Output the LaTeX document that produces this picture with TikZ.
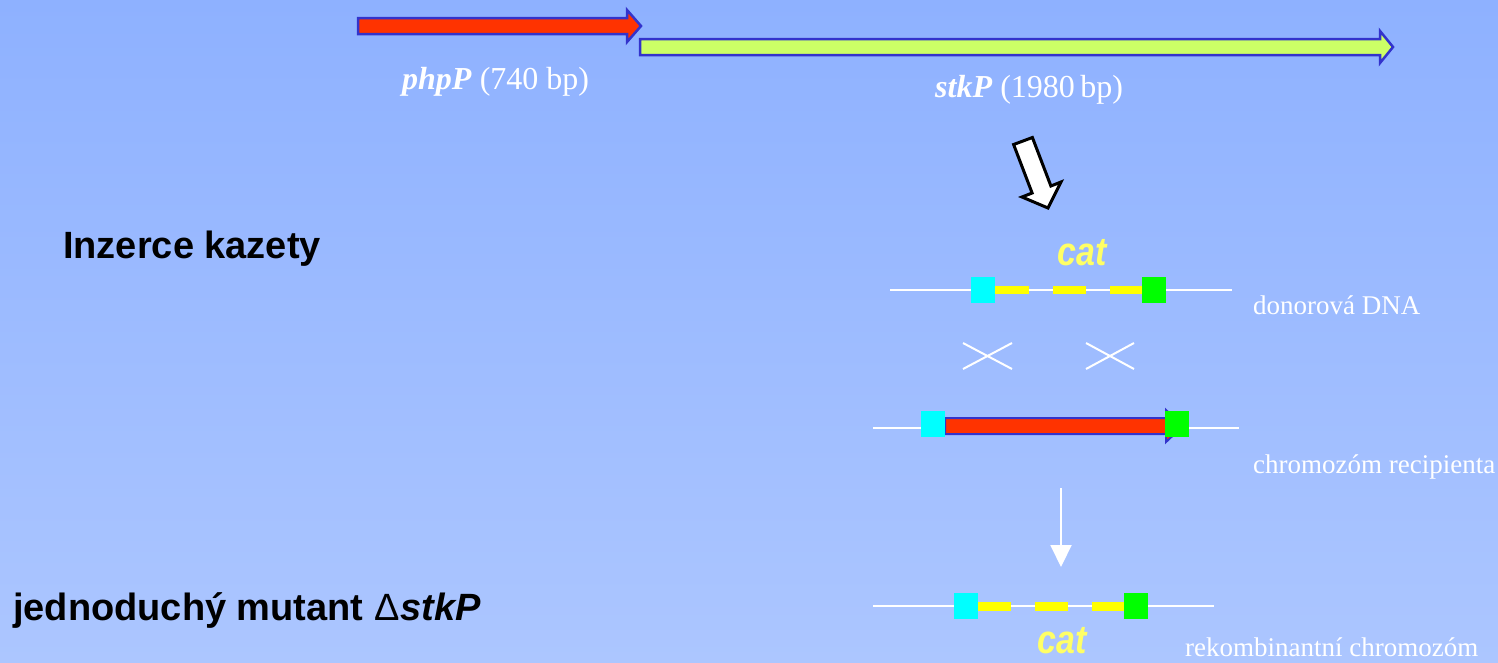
\documentclass[tikz,border=0pt]{standalone}
\usepackage{fontspec}
\usepackage{graphicx}
\setmainfont{Liberation Serif}
\setsansfont{Liberation Sans}
\usetikzlibrary{arrows.meta}

\definecolor{bgtop}{RGB}{142,177,255}
\definecolor{bgbot}{RGB}{172,198,255}
\definecolor{geneedge}{RGB}{51,51,204}
\definecolor{genered}{RGB}{255,51,0}
\definecolor{genelime}{RGB}{204,255,102}
\definecolor{catcyan}{RGB}{0,255,255}
\definecolor{catgreen}{RGB}{0,255,0}
\definecolor{catyellow}{RGB}{255,255,0}
\definecolor{cattext}{RGB}{255,255,102}

\tikzset{
  gene/.style={draw=geneedge, line width=2.5pt, line join=miter},
  flank/.style={draw=none, inner sep=0pt, minimum width=24pt, minimum height=26pt},
  dna/.style={white, line width=2pt},
  cassette/.style={fill=catyellow},
  cross/.style={white, line width=2pt},
  sublabel/.style={inner sep=0pt, anchor=base west, text=white,
    font=\fontsize{27}{30}\selectfont},
  genelabel/.style={inner sep=0pt, anchor=base west, text=white,
    font=\fontsize{32}{36}\selectfont},
  heading/.style={inner sep=0pt, anchor=base west, text=black,
    font=\sffamily\bfseries\fontsize{38}{44}\selectfont},
  catlabel/.style={inner sep=0pt, anchor=base, text=cattext,
    font=\sffamily\bfseries\itshape\fontsize{40}{44}\selectfont},
}

\begin{document}
\begin{tikzpicture}[x=1pt, y=-1pt]
  % background
  \shade[top color=bgtop, bottom color=bgbot] (0,0) rectangle (1498,662);
  \useasboundingbox (0,0) rectangle (1498,662);

  % genes phpP and stkP
  \filldraw[gene, fill=genered]
    (358,18) -- (627,18) -- (627,10) -- (641,26) -- (627,42) -- (627,34) -- (358,34) -- cycle;
  \filldraw[gene, fill=genelime]
    (640,39) -- (1380,39) -- (1380,31) -- (1393,47) -- (1380,63) -- (1380,55) -- (640,55) -- cycle;
  \node[genelabel] (php) at (402,89) {\textbf{\textit{phpP}} (740 bp)};
  \node[genelabel] (stk) at (935,97) {\textbf{\textit{stkP}} (1980\,bp)};

  % hollow arrow down to the construct
  \filldraw[fill=white, draw=black, line width=3pt, line join=miter]
    (1013.6,144.5) -- (1032.4,137.5) -- (1050.9,186) -- (1061,182) -- (1048,208)
    -- (1022,197) -- (1032.1,193) -- cycle;

  % headings
  \node[heading] (ins) at (63,258) {Inzerce kazety};
  \node[heading] (mut) at (13,620) {jednoduchý mutant {\mdseries Δ}\kern1pt\textit{stkP}};

  % donor DNA with cat cassette
  \draw[dna] (890,290) -- (1232,290);
  \fill[cassette] (995,286) rectangle (1029,294);
  \fill[cassette] (1053,286) rectangle (1086,294);
  \fill[cassette] (1110,286) rectangle (1143,294);
  \node[flank, fill=catcyan] (dl) at (983,290) {};
  \node[flank, fill=catgreen] (dr) at (1154,290) {};
  \node[catlabel] (cat1) at (1082,265) {\scalebox{0.85}[1]{cat}};
  \node[sublabel] (donor) at (1253,314) {donorová DNA};

  % crossing-over
  \draw[cross] (963,343) -- (1012,369) (963,369) -- (1012,343);
  \draw[cross] (1086,343) -- (1134,369) (1086,369) -- (1134,343);

  % recipient chromosome
  \draw[dna] (873,428) -- (1239,428);
  \filldraw[gene, fill=genered, line width=2pt]
    (945,418) -- (1166,418) -- (1166,410) -- (1183,426) -- (1166,442) -- (1166,434) -- (945,434) -- cycle;
  \node[flank, fill=catcyan] (rl) at (933,424) {};
  \node[flank, fill=catgreen] (rr) at (1177,424) {};
  \node[sublabel] (recip) at (1253,473) {chromozóm recipienta};

  % recombination step
  \coordinate (stepA) at (1061,488);
  \coordinate (stepB) at (1061,567);
  \draw[white, line width=2pt, -{Triangle[width=21pt,length=22pt]}] (stepA) -- (stepB);

  % recombinant chromosome
  \draw[dna] (873,606) -- (1214,606);
  \fill[cassette] (978,602) rectangle (1011,611);
  \fill[cassette] (1035,602) rectangle (1068,611);
  \fill[cassette] (1092,602) rectangle (1124,611);
  \node[flank, fill=catcyan] (kl) at (966,606) {};
  \node[flank, fill=catgreen] (kr) at (1136,606) {};
  \node[catlabel] (cat2) at (1062,653) {\scalebox{0.85}[1]{cat}};
  \node[sublabel] (recomb) at (1185,656) {rekombinantní chromozóm};
\end{tikzpicture}
\end{document}
